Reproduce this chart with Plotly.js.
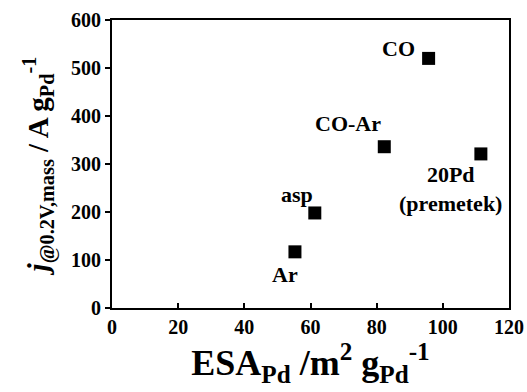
<!DOCTYPE html>
<html><head><meta charset="utf-8">
<script src="https://cdn.plot.ly/plotly-3.0.1.min.js"></script>
<style>html,body{margin:0;padding:0;background:#fff}#c{width:527px;height:392px}</style>
</head><body><div id="c"></div>
<script>
const samples = ["CO", "CO-Ar", "20Pd<br>(premetek)", "asp", "Ar"];
const esa = [95.7, 82.3, 111.5, 61.3, 55.3];
const jmass = [520, 336, 321, 198, 117];
const xTicks = [0, 20, 40, 60, 80, 100, 120];
const yTicks = [0, 100, 200, 300, 400, 500, 600];
// label offsets (px) relative to each point
const labelDx = [-30, -36, -30, -18, -10];
const labelDy = [-10, -23, 35, -18, 23];

const serif = "Liberation Serif";
const annotations = samples.map((s, i) => ({
  x: esa[i], y: jmass[i], xref: "x", yref: "y",
  text: s, showarrow: true, arrowcolor: "rgba(0,0,0,0)",
  ax: labelDx[i], ay: labelDy[i],
  font: {family: serif, size: 22, color: "#000", weight: "bold"}
}));

Plotly.newPlot("c", [{
  x: esa, y: jmass, mode: "markers", type: "scatter",
  marker: {symbol: "square", size: 13, color: "#000"},
  hoverinfo: "skip"
}], {
  width: 527, height: 392,
  margin: {l: 112, r: 18, t: 20, b: 84},
  paper_bgcolor: "#fff", plot_bgcolor: "#fff",
  showlegend: false,
  font: {family: serif, color: "#000", weight: "bold"},
  xaxis: {
    range: [0, 120], tickvals: xTicks,
    ticks: "inside", ticklen: 5, tickwidth: 2, tickcolor: "#000",
    showline: true, linewidth: 2, linecolor: "#000", mirror: true,
    showgrid: false, zeroline: false,
    tickfont: {family: serif, size: 20, color: "#000", weight: "bold"},
    title: {text: "ESA<sub>Pd</sub> /m<sup>2</sup> g<sub>Pd</sub><sup>-1</sup>",
            font: {family: serif, size: 36, color: "#000", weight: "bold"}, standoff: 0}
  },
  yaxis: {
    range: [0, 600], tickvals: yTicks,
    ticks: "outside", ticklen: 5, tickwidth: 2, tickcolor: "#000",
    showline: true, linewidth: 2, linecolor: "#000", mirror: true,
    showgrid: false, zeroline: false,
    tickfont: {family: serif, size: 20, color: "#000", weight: "bold"},
    title: {text: "<i>j</i><sub>@0.2V,mass</sub> / A g<sub>Pd</sub><sup>-1</sup>",
            font: {family: serif, size: 29, color: "#000", weight: "bold"}, standoff: 14}
  },
  annotations: annotations
}, {staticPlot: true});
</script></body></html>
